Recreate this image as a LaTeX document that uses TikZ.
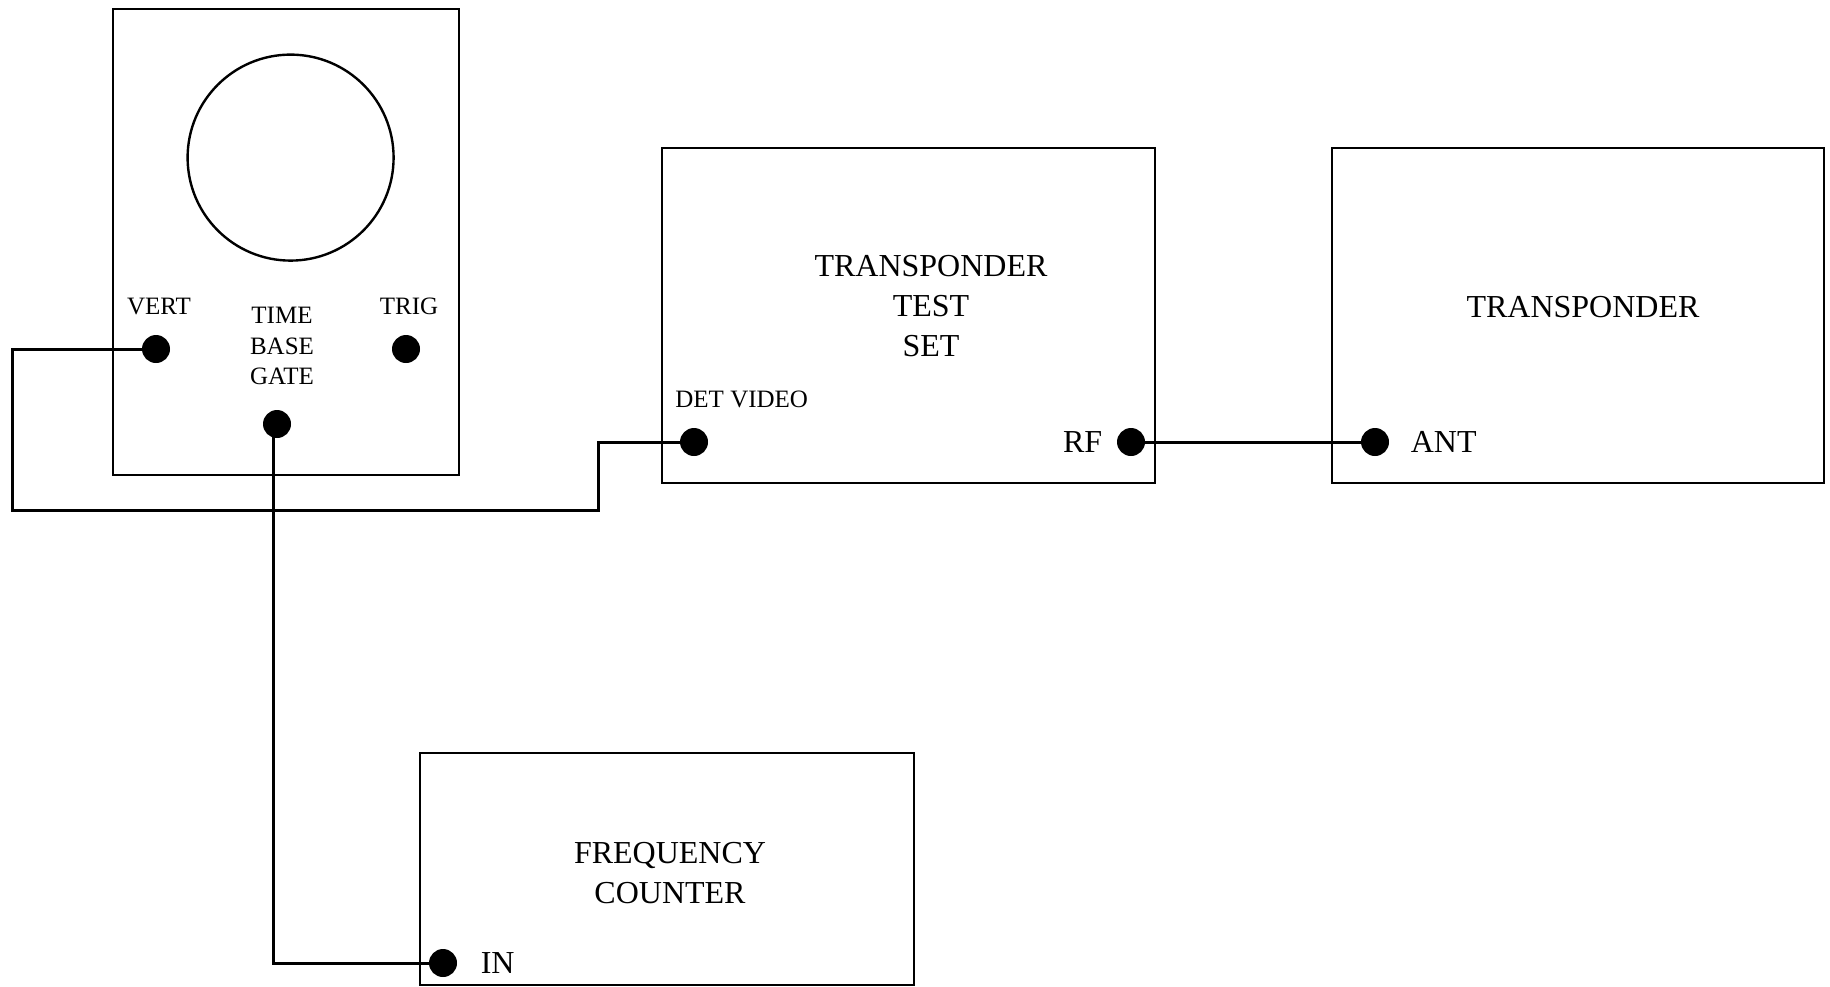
\documentclass[tikz,border=0pt]{standalone}
\usepackage{fontspec}
\setmainfont{Liberation Serif}
\usetikzlibrary{positioning}

\begin{document}
\begin{tikzpicture}[
    x=0.5pt, y=-0.5pt,
    devbox/.style={draw, line width=1.2pt, inner sep=0pt},
    portdot/.style={circle, fill=black, inner sep=0pt, minimum size=14pt},
    smalltxt/.style={inner sep=0pt, align=center, font=\fontsize{12.5}{15.25}\selectfont},
    bigtxt/.style={inner sep=0pt, align=center, font=\fontsize{16}{20}\selectfont},
    wire/.style={line width=1.5pt}
  ]
  \useasboundingbox (0,0) rectangle (1830,986);

  % 1. Oscilloscope
  \node[devbox, minimum width=173pt, minimum height=233pt] (scope) at (286,242) {};
  \node[devbox, circle, minimum size=103pt] (screen) at (290.6,157.6) {};
  \node[portdot] (vert) at (156,349) {};
  \node[portdot] (trig) at (406,349) {};
  \node[portdot] (gate) at (277,424) {};
  \node[smalltxt] (vert-txt) at (159,306) {VERT};
  \node[smalltxt] (trig-txt) at (409,306) {TRIG};
  \node[smalltxt] (gate-txt) at (282,346) {TIME\\BASE\\GATE};

  % 2. Transponder test set
  \node[devbox, minimum width=246.5pt, minimum height=167.5pt] (tts) at (908.5,315.5) {};
  \node[bigtxt] (tts-txt) at (931,306) {TRANSPONDER\\TEST\\SET};
  \node[portdot] (detvid) at (694,442) {};
  \node[portdot] (rf) at (1131,442) {};
  \node[smalltxt, anchor=west] (detvid-txt) at (675,399) {DET VIDEO};
  \node[bigtxt, left=7pt of rf] (rf-txt) {RF};

  % 3. Transponder
  \node[devbox, minimum width=246pt, minimum height=167.5pt] (xpdr) at (1578,315.5) {};
  \node[bigtxt] (xpdr-txt) at (1583,307) {TRANSPONDER};
  \node[portdot] (ant) at (1375,442) {};
  \node[bigtxt, right=10.5pt of ant] (ant-txt) {ANT};

  % 4. Frequency counter
  \node[devbox, minimum width=247pt, minimum height=116pt] (fc) at (667,869) {};
  \node[bigtxt] (fc-txt) at (670,873) {FREQUENCY\\COUNTER};
  \node[portdot] (in) at (443,963) {};
  \node[bigtxt, right=11.5pt of in] (in-txt) {IN};

  % Cables
  \draw[wire] (vert.center) -| (12,510) -| (598,442) -- (detvid.center);
  \draw[wire] ([xshift=-2pt]gate.center) |- (in.center);
  \draw[wire] (rf.center) -- (ant.center);

\end{tikzpicture}
\end{document}
